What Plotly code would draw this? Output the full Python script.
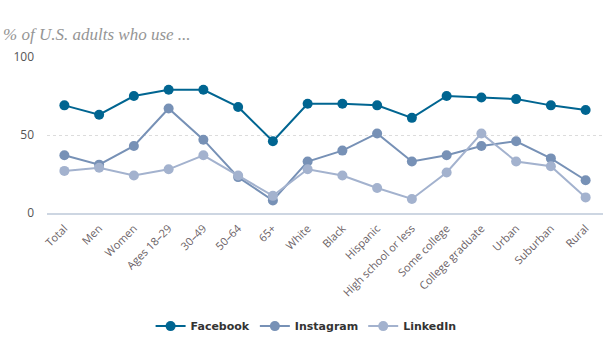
import plotly.graph_objects as go

categories = ["Total", "Men", "Women", "Ages 18\u201329", "30\u201349", "50\u201364", "65+",
              "White", "Black", "Hispanic", "High school or less", "Some college",
              "College graduate", "Urban", "Suburban", "Rural"]
facebook = [69, 63, 75, 79, 79, 68, 46, 70, 70, 69, 61, 75, 74, 73, 69, 66]
instagram = [37, 31, 43, 67, 47, 23, 8, 33, 40, 51, 33, 37, 43, 46, 35, 21]
linkedin = [27, 29, 24, 28, 37, 24, 11, 28, 24, 16, 9, 26, 51, 33, 30, 10]
y_ticks = [0, 50, 100]

series = [("Facebook", facebook, "#006591"),
          ("Instagram", instagram, "#7791b6"),
          ("LinkedIn", linkedin, "#a3b2ce")]

fig = go.Figure()
for name, vals, color in series:
    fig.add_trace(go.Scatter(
        x=categories, y=vals, name=name, mode="lines+markers",
        line=dict(color=color, width=2),
        marker=dict(color=color, size=10),
        cliponaxis=False,
    ))

fig.update_layout(
    width=616, height=353,
    margin=dict(l=47, r=13, t=57, b=138),
    paper_bgcolor="white", plot_bgcolor="white",
    title=dict(text="% of U.S. adults who use ...", x=0.005, xref="container",
               xanchor="left", y=1 - 34 / 353, yref="container", yanchor="middle",
               font=dict(family="Liberation Serif", size=17, color="#959595", style="italic")),
    legend=dict(orientation="h", x=0.466, xanchor="center", y=-0.725, yanchor="middle",
                font=dict(family="DejaVu Sans", size=11, color="#333333", weight="bold"),
                itemwidth=30, traceorder="normal"),
    showlegend=True,
)
fig.update_xaxes(
    type="category", range=[-0.5, 15.5], tickangle=-45,
    tickfont=dict(family="Open Sans", size=11, color="#6b5f66"),
    showline=True, linecolor="#cdd6e2", linewidth=1.5,
    showgrid=False, ticks="", fixedrange=True, ticklabelstandoff=3,
)
fig.update_yaxes(
    range=[0, 100], tickvals=y_ticks,
    tickfont=dict(family="Open Sans", size=12, color="#555555"),
    showgrid=True, gridcolor="#dcdcdc", griddash="dot", gridwidth=1,
    zeroline=False, ticks="", ticklabelstandoff=12, fixedrange=True,
)

fig.write_html("out.html")
